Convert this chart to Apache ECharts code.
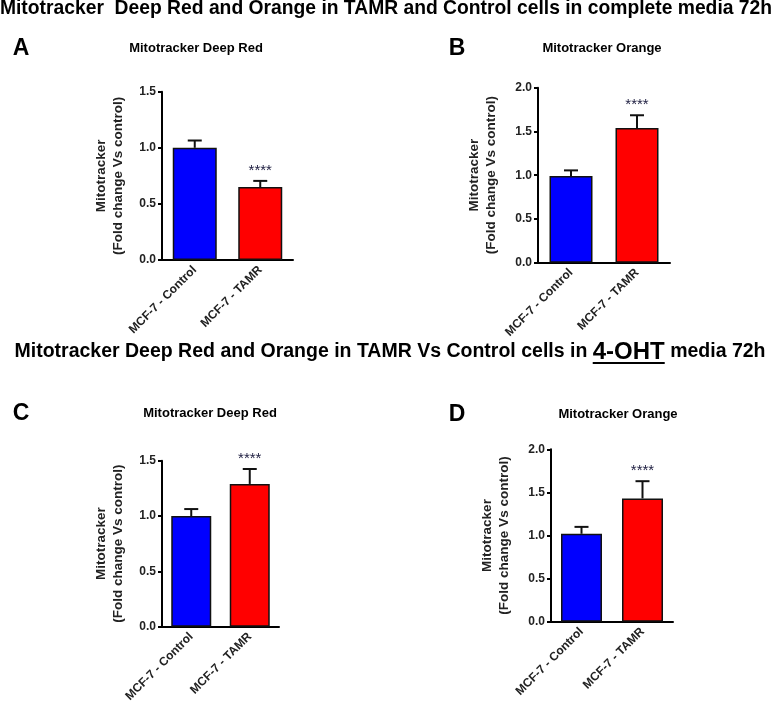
<!DOCTYPE html>
<html><head><meta charset="utf-8">
<script src="https://cdn.jsdelivr.net/npm/echarts@6/dist/echarts.min.js"></script>
<style>html,body{margin:0;padding:0;background:#fff}#c{width:773px;height:705px}</style>
</head><body><div id="c"></div>
<script>
const categories = ['MCF-7 - Control', 'MCF-7 - TAMR'];
const valuesA = [1.00, 0.65];
const errorsA = [0.065, 0.055];
const valuesB = [0.99, 1.54];
const errorsB = [0.065, 0.145];
const valuesC = [1.00, 1.29];
const errorsC = [0.063, 0.135];
const valuesD = [1.02, 1.43];
const errorsD = [0.08, 0.20];
const sigA = ['', '****'];
const sigB = ['', '****'];
const sigC = ['', '****'];
const sigD = ['', '****'];
const yMaxA = 1.5, yMaxB = 2.0, yMaxC = 1.5, yMaxD = 2.0;
const yInterval = 0.5;
const panelTitles = ['Mitotracker Deep Red', 'Mitotracker Orange', 'Mitotracker Deep Red', 'Mitotracker Orange'];
const yName = 'Mitotracker\n(Fold change Vs control)';
const barColors = ['#0000FF', '#FF0000'];
const mainTitle1 = 'Mitotracker  Deep Red and Orange in TAMR and Control cells in complete media 72h';
const mainTitle2Parts = ['Mitotracker Deep Red and Orange in TAMR Vs Control cells in ', '4-OHT', ' media 72h'];

const FONT = '"Liberation Sans", Arial, sans-serif';
const chart = echarts.init(document.getElementById('c'), null, {renderer: 'canvas'});

const grids = [
  {left: 162, top: 91.7, width: 131, height: 168.3},
  {left: 538, top: 87.7, width: 132, height: 175},
  {left: 162, top: 460.7, width: 117, height: 166},
  {left: 551, top: 449.3, width: 122, height: 172.4}
];
const panels = [
  {v: valuesA, e: errorsA, s: sigA, max: yMaxA, bw: 44, gap: 35},
  {v: valuesB, e: errorsB, s: sigB, max: yMaxB, bw: 43, gap: 38},
  {v: valuesC, e: errorsC, s: sigC, max: yMaxC, bw: 40, gap: 35},
  {v: valuesD, e: errorsD, s: sigD, max: yMaxD, bw: 41, gap: 38}
];

const xAxes = [], yAxes = [], series = [];
panels.forEach((p, i) => {
  xAxes.push({
    type: 'category', gridIndex: i, data: categories,
    axisLine: {lineStyle: {color: '#000', width: 2}},
    axisTick: {alignWithLabel: true, length: 5, lineStyle: {color: '#000', width: 2}},
    axisLabel: {rotate: 45, interval: 0, margin: 8, color: '#222', fontFamily: FONT, fontWeight: 'bold', fontSize: 12}
  });
  yAxes.push({
    type: 'value', gridIndex: i, min: 0, max: p.max, interval: yInterval,
    splitLine: {show: false},
    axisLine: {show: true, lineStyle: {color: '#000', width: 2}},
    axisTick: {show: true, length: 4, lineStyle: {color: '#000', width: 2}},
    axisLabel: {margin: 6, color: '#222', fontFamily: FONT, fontWeight: 'bold', fontSize: 12, formatter: v => v.toFixed(1)},
    name: yName, nameLocation: 'middle', nameRotate: 90, nameGap: p.gap,
    nameTextStyle: {color: '#222', fontFamily: FONT, fontWeight: 'bold', fontSize: 13.5, lineHeight: 17, align: 'center'}
  });
  series.push({
    type: 'bar', xAxisIndex: i, yAxisIndex: i, barWidth: p.bw, silent: true,
    data: p.v.map((v, k) => ({value: v, itemStyle: {color: barColors[k]}})),
    itemStyle: {borderColor: '#111', borderWidth: 1.5}
  });
  series.push({
    type: 'custom', xAxisIndex: i, yAxisIndex: i, silent: true, z: 1,
    data: p.v.map((v, k) => [k, v, p.e[k]]),
    renderItem: (params, api) => {
      const k = api.value(0);
      const base = api.coord([k, api.value(1)]);
      const top = api.coord([k, api.value(1) + api.value(2)]);
      const cap = 7;
      const children = [
        {type: 'line', shape: {x1: base[0], y1: base[1], x2: top[0], y2: top[1]}, style: {stroke: '#111', lineWidth: 2}},
        {type: 'line', shape: {x1: top[0] - cap, y1: top[1], x2: top[0] + cap, y2: top[1]}, style: {stroke: '#111', lineWidth: 2}}
      ];
      const s = p.s[params.dataIndex];
      if (s) {
        children.push({type: 'text', style: {text: s, x: top[0], y: top[1] - 10, textAlign: 'center', textVerticalAlign: 'middle', fill: '#222244', font: '15px ' + FONT}});
      }
      return {type: 'group', children};
    }
  });
});

const txt = (text, x, y, size, extra) => Object.assign({
  type: 'text', x, y,
  style: {text, fill: '#000', font: 'bold ' + size + 'px ' + FONT, textAlign: 'center', textVerticalAlign: 'middle'}
}, extra || {});

// measure title-2 pieces to place the underline under "4-OHT"
const fA = 'bold 19.5px ' + FONT, fB = 'bold 24px ' + FONT;
const ctx = document.createElement('canvas').getContext('2d');
const mw = (t, f) => { ctx.font = f; return ctx.measureText(t).width; };
const w1 = mw(mainTitle2Parts[0], fA), w2 = mw(mainTitle2Parts[1], fB), w3 = mw(mainTitle2Parts[2], fA);
const t2cx = 390, t2y = 352;
const t2start = t2cx - (w1 + w2 + w3) / 2;

const graphic = [
  txt(mainTitle1, 386, 9, 19.3),
  txt('A', 21, 49, 23), txt('B', 457, 49, 23), txt('C', 21, 414, 23), txt('D', 457, 415, 23),
  txt(panelTitles[0], 196, 48, 13), txt(panelTitles[1], 602, 48, 13),
  txt(panelTitles[2], 210, 413, 13), txt(panelTitles[3], 618, 414, 13),
  {
    type: 'text', x: t2cx, y: t2y,
    style: {
      text: '{a|' + mainTitle2Parts[0] + '}{b|' + mainTitle2Parts[1] + '}{a|' + mainTitle2Parts[2] + '}',
      textAlign: 'center', textVerticalAlign: 'middle',
      rich: {a: {font: fA, fill: '#000'}, b: {font: fB, fill: '#000'}}
    }
  },
  {type: 'rect', shape: {x: t2start + w1, y: t2y + 10, width: w2, height: 2}, style: {fill: '#000'}}
];

chart.setOption({
  animation: false,
  grid: grids,
  xAxis: xAxes,
  yAxis: yAxes,
  series,
  graphic
});
</script></body></html>
